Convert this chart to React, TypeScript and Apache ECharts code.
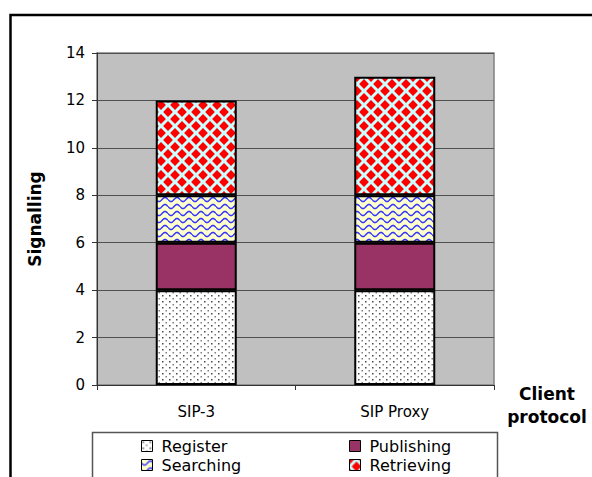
import React, { useEffect, useRef } from 'react';
import * as echarts from 'echarts';

const categories = ['SIP-3', 'SIP Proxy'];
const seriesNames = ['Register', 'Publishing', 'Searching', 'Retrieving'];
const registerValues = [4, 4];
const publishingValues = [2, 2];
const searchingValues = [2, 2];
const retrievingValues = [4, 5];
const yMin = 0;
const yMax = 14;
const yInterval = 2;

const FONT = 'DejaVu Sans, Liberation Sans, Arial, sans-serif';

function makeTile(w: number, h: number, draw: (ctx: CanvasRenderingContext2D) => void) {
  const c = document.createElement('canvas');
  c.width = w;
  c.height = h;
  const ctx = c.getContext('2d') as CanvasRenderingContext2D;
  draw(ctx);
  return { image: c.toDataURL(), repeat: 'repeat', imageWidth: w, imageHeight: h } as any;
}

export default function App() {
  const ref = useRef<HTMLDivElement>(null);
  useEffect(() => {
    if (!ref.current) return;
    const chart = echarts.init(ref.current, undefined, { renderer: 'svg' });

    const dots = makeTile(7, 6, (ctx) => {
      ctx.fillStyle = '#ffffff';
      ctx.fillRect(0, 0, 7, 6);
      ctx.fillStyle = '#4a4a4a';
      ctx.fillRect(1, 1, 1.5, 1.5);
      ctx.fillStyle = '#808080';
      ctx.fillRect(4.5, 4, 1.5, 1.5);
    });
    const waves = makeTile(12, 7, (ctx) => {
      ctx.fillStyle = '#ffffcc';
      ctx.fillRect(0, 0, 12, 7);
      ctx.strokeStyle = '#3333ff';
      ctx.lineWidth = 1.5;
      ctx.beginPath();
      for (let x = 0; x <= 12; x += 0.5) {
        const y = 3.5 + 2 * Math.sin((x / 12) * Math.PI * 2);
        if (x === 0) ctx.moveTo(x, y);
        else ctx.lineTo(x, y);
      }
      ctx.stroke();
    });
    const diamonds = makeTile(14, 14, (ctx) => {
      ctx.fillStyle = '#ccffff';
      ctx.fillRect(0, 0, 14, 14);
      ctx.fillStyle = '#ff0000';
      const d = 4.9;
      const centers = [[0, 0], [14, 0], [0, 14], [14, 14], [7, 7]];
      centers.forEach(([cx, cy]) => {
        ctx.beginPath();
        ctx.moveTo(cx, cy - d);
        ctx.lineTo(cx + d, cy);
        ctx.lineTo(cx, cy + d);
        ctx.lineTo(cx - d, cy);
        ctx.closePath();
        ctx.fill();
      });
    });

    const fills = [dots, '#993366', waves, diamonds];
    const values = [registerValues, publishingValues, searchingValues, retrievingValues];

    const series = seriesNames.map((name, i) => ({
      name,
      type: 'bar',
      stack: 'total',
      barWidth: 81,
      data: values[i],
      itemStyle: { color: fills[i], borderColor: '#000000', borderWidth: 2 },
      emphasis: { disabled: true },
    }));

    const legendPos: Record<string, [number, number]> = {
      Register: [141, 437],
      Searching: [141, 456],
      Publishing: [349, 437],
      Retrieving: [349, 456],
    };
    const legends = Object.keys(legendPos).map((name) => ({
      data: [name],
      left: legendPos[name][0],
      top: legendPos[name][1],
      padding: 0,
      itemWidth: 11,
      itemHeight: 11,
      icon: 'rect',
      itemStyle: { borderColor: '#000', borderWidth: 1 },
      textStyle: { fontFamily: FONT, fontSize: 16, lineHeight: 18, color: '#000', padding: [0, 0, 0, 4] },
      selectedMode: false,
    }));

    chart.setOption({
      animation: false,
      backgroundColor: '#ffffff',
      grid: {
        left: 97,
        top: 53,
        width: 397,
        height: 332,
        show: true,
        backgroundColor: '#c0c0c0',
        borderColor: '#808080',
        borderWidth: 1.5,
      },
      xAxis: {
        type: 'category',
        data: categories,
        axisLine: { show: true, lineStyle: { color: '#333', width: 1 } },
        axisTick: { show: true, length: 5, alignWithLabel: false, lineStyle: { color: '#333' } },
        axisLabel: { color: '#000', fontFamily: FONT, fontSize: 15, margin: 19 },
        name: 'Client\nprotocol',
        nameLocation: 'end',
        nameGap: 53,
        nameTextStyle: {
          fontFamily: FONT,
          fontSize: 17,
          fontWeight: 'bold',
          color: '#000',
          align: 'center',
          verticalAlign: 'top',
          lineHeight: 23,
          padding: [-3, 0, 0, 0],
        },
      },
      yAxis: {
        type: 'value',
        min: yMin,
        max: yMax,
        interval: yInterval,
        axisLine: { show: true, lineStyle: { color: '#333', width: 1 } },
        axisTick: { show: true, length: 5, inside: false, lineStyle: { color: '#333' } },
        axisLabel: { color: '#000', fontFamily: FONT, fontSize: 15, margin: 12 },
        splitLine: { show: true, lineStyle: { color: '#505050', width: 1 } },
        name: 'Signalling',
        nameLocation: 'middle',
        nameRotate: 90,
        nameGap: 54,
        nameTextStyle: { fontFamily: FONT, fontSize: 17, fontWeight: 'bold', color: '#000' },
      },
      legend: legends,
      series,
      graphic: [
        {
          type: 'rect',
          shape: { x: 10.5, y: 15, width: 700, height: 600 },
          style: { fill: 'none', stroke: '#000', lineWidth: 2.5 },
          silent: true,
        },
        {
          type: 'rect',
          shape: { x: 92.5, y: 432.5, width: 405, height: 80 },
          style: { fill: '#fff', stroke: '#555', lineWidth: 1.5 },
          silent: true,
          z: -1,
        },
      ],
    });
    return () => chart.dispose();
  }, []);
  return (
    <div
      ref={ref}
      style={{ position: 'absolute', left: 0, top: 0, width: 592, height: 477 }}
    />
  );
}
